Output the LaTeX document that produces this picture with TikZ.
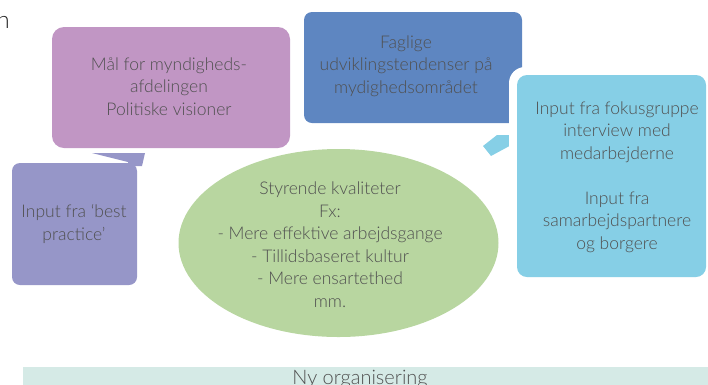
\documentclass[tikz,border=0pt]{standalone}
\usepackage{fontspec}
\setmainfont{Lato Light}
\definecolor{cpurple}{HTML}{C196C4}
\definecolor{clav}{HTML}{9696C8}
\definecolor{cblue}{HTML}{5E86C1}
\definecolor{ccyan}{HTML}{86CFE6}
\definecolor{cgreen}{HTML}{B8D6A0}
\definecolor{cbar}{HTML}{D5EAE6}
\definecolor{ctext}{HTML}{505050}
\tikzset{
  txt/.style={text=ctext, align=center, inner sep=0pt, anchor=base,
    font=\fontsize{17.5}{22.5}\selectfont},
}
\begin{document}
\begin{tikzpicture}[x=1pt,y=-1pt]
\useasboundingbox (0,0) rectangle (708,384);
% ellipse
\fill[cgreen] (338.5,243) ellipse [x radius=160, y radius=94];
% purple box
\fill[cpurple, rounded corners=12pt] (52,27) rectangle (290,148);
% lavender tail and box
\fill[clav] (92,153) -- (145,153) -- (142,166) -- (128,166) -- (128,162) -- cycle;
\fill[clav, rounded corners=8pt] (12,163) rectangle (137,285);
% blue box
\fill[cblue, rounded corners=8pt] (304,12) rectangle (522,123);
% cyan tail, halo and box
\fill[ccyan] (483,146) -- (497,135) -- (515,135) -- (515,143) -- (491,156) -- cycle;
\fill[white, rounded corners=16pt] (509,67) rectangle (716,285);
\fill[ccyan, rounded corners=10pt] (517,75) rectangle (706,277);
% bar
\fill[cbar] (23,367) rectangle (708,390);
% texts
\node[txt, anchor=base east, text=black!85, font=\fontsize{24}{28}\selectfont] (n) at (10,28) {n};
\node[txt] (mal) at (169,115) {Mål for myndigheds-\\afdelingen\\Politiske visioner};
\node[txt] (best) at (74,240) {Input fra ‘best\\practice’};
\node[txt] (fag) at (406,93) {Faglige\\udviklingstendenser på\\mydighedsområdet};
\node[txt] (inp) at (617,249) {Input fra fokusgruppe\\interview med\\medarbejderne\\[22.5pt]Input fra\\samarbejdspartnere\\og borgere};
\node[txt] (sty) at (330,307) {Styrende kvaliteter\\Fx:\\- Mere effektive arbejdsgange\\- Tillidsbaseret kultur\\- Mere ensartethed\\mm.};
\node[txt, font=\fontsize{20}{24}\selectfont] (ny) at (360,384) {Ny organisering};
\end{tikzpicture}
\end{document}
